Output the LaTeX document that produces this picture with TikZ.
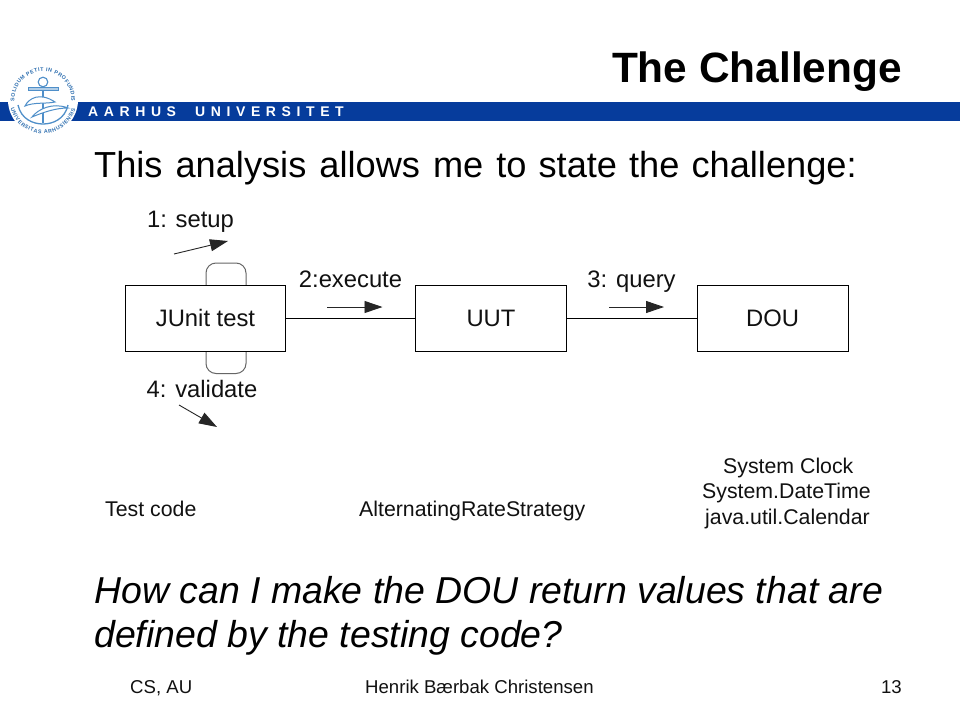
\documentclass[tikz,border=0pt]{standalone}
\usepackage{fontspec}
\setmainfont{Liberation Sans}
\usetikzlibrary{decorations.text,arrows.meta}
\definecolor{aublue}{HTML}{063C9C}
\definecolor{logoblue}{HTML}{4F8FC9}
\definecolor{logotxt}{HTML}{2E6FB0}
\definecolor{txtk}{HTML}{111111}
\newcommand{\fsz}[1]{\fontsize{#1}{#1}\selectfont}
\tikzset{
  x=1pt,y=-1pt,
  title/.style={anchor=base east,inner sep=0,font=\fsz{42.4}\bfseries,text=black},
  bodytxt/.style={anchor=base west,inner sep=0,font=\fsz{36.2},text=black},
  bodyit/.style={anchor=base west,inner sep=0,font=\fsz{37.45}\itshape,text=black},
  small/.style={anchor=base west,inner sep=0,font=\fsz{21.3},text=txtk},
  foot/.style={anchor=base west,inner sep=0,font=\fsz{18.6},text=txtk},
  dia/.style={anchor=base,inner sep=0,font=\fsz{23.8},text=txtk},
  box/.style={draw=black,line width=1pt,fill=white,inner sep=0,font=\fsz{23.8},text=txtk},
  link/.style={draw=black,line width=1pt},
  loopl/.style={draw=black!60,line width=1pt,rounded corners=10},
  msg/.style={draw=black!85,line width=.9pt,-{Triangle[length=18,width=12]}},
  logol/.style={draw=logoblue,line width=1.3pt},
  logof/.style={draw=logoblue,line width=1pt,fill=white},
  bandtxt/.style={anchor=base west,inner sep=0,text=white,font=\fsz{14}\bfseries\addfontfeature{LetterSpace=40}},
}
\begin{document}
\begin{tikzpicture}
\useasboundingbox (0,0) rectangle (960,720);
\fill[white] (0,0) rectangle (960,720);
% band
\fill[aublue] (0,102) rectangle (960,121);
\node[bandtxt] (banda) at (88,116.7) {AARHUS};
\node[bandtxt] (bandb) at (195,116.7) {UNIVERSITET};
% seal
\fill[white] (43,100) circle (35);
\begin{scope}[shift={(43,100)},y=1pt]
\path[decorate,decoration={text along path,text align={fit to path},text={|\fsz{5.3}\bfseries\color{logotxt}|SOLIDUM PETIT IN PROFUNDIS}}]
  (183:28.5) arc[start angle=183,end angle=-3,radius=28.5];
\path[decorate,decoration={text along path,text align={fit to path},text={|\fsz{5.3}\bfseries\color{logotxt}|UNIVERSITAS ARHUSIENSIS}}]
  (195:33.5) arc[start angle=195,end angle=345,radius=33.5];
\end{scope}
% anchor
\draw[logol] (43,87) -- (43,123);
\draw[logol,line width=1.1pt] (43,82) circle (4.8);
\draw[logol,line width=.8pt,fill=logoblue!45] (28,87.5) rectangle (58,90.5);
\draw[logol] (18,105) .. controls (21,119) and (33,124) .. (43,124) .. controls (53,124) and (65,119) .. (68,105);
\draw[logof] (25,106) .. controls (29,98) and (40,92) .. (55,102) .. controls (46,104) and (34,102) .. (25,106) -- cycle;
\draw[logof] (32,117) .. controls (38,109) and (53,102) .. (68,108) .. controls (56,108) and (44,112) .. (32,117) -- cycle;
% text
\node[title] (ttl) at (902,82) {The Challenge};
\node[bodytxt] (intro) at (94,177) {This\hspace{3pt} analysis\hspace{3pt} allows\hspace{3pt} me\hspace{3pt} to\hspace{2pt} state\hspace{2pt} the\hspace{2pt} challenge:};
\node[bodyit] (q1) at (94,603.5) {How can I make the DOU return values that are};
\node[bodyit] (q2) at (94,647.5) {defined by the testing code?};
% diagram
\coordinate (la) at (206,285); \coordinate (lb) at (206,263); \coordinate (lc) at (246,263); \coordinate (ld) at (246,285);
\coordinate (le) at (206,351); \coordinate (lf) at (206,373.5); \coordinate (lg) at (246,373.5); \coordinate (lh) at (246,351);
\draw[loopl] (la) -- (lb) -- (lc) -- (ld);
\draw[loopl] (le) -- (lf) -- (lg) -- (lh);
\node[box,minimum width=160.4,minimum height=66] (junit) at (205.5,318) {JUnit test};
\node[box,minimum width=151,minimum height=66] (uut) at (491,318) {UUT};
\node[box,minimum width=151,minimum height=66] (dou) at (772.5,318) {DOU};
\draw[link] (junit) -- (uut);
\draw[link] (uut) -- (dou);
\node[dia] (l1) at (190.5,227) {1: setup};
\node[dia] (l2) at (350.5,287) {2:execute};
\node[dia] (l3) at (631.5,287) {3: query};
\node[dia] (l4) at (202,397) {4: validate};
\coordinate (a1s) at (174,254); \coordinate (a1e) at (228,241);
\coordinate (a2s) at (327,307); \coordinate (a2e) at (382.5,307);
\coordinate (a3s) at (609,307); \coordinate (a3e) at (664,307);
\coordinate (a4s) at (179,405); \coordinate (a4e) at (217,427);
\draw[msg] (a1s) -- (a1e);
\draw[msg] (a2s) -- (a2e);
\draw[msg] (a3s) -- (a3e);
\draw[msg] (a4s) -- (a4e);
\node[small] (c1) at (105,516) {Test code};
\node[small] (c2) at (359,516) {AlternatingRateStrategy};
\node[small] (c3) at (723,473) {System Clock};
\node[small] (c4) at (702,498) {System.DateTime};
\node[small] (c5) at (705,524) {java.util.Calendar};
\node[foot] (f1) at (130,693) {CS, AU};
\node[foot] (f2) at (365,693) {Henrik Bærbak Christensen};
\node[foot,anchor=base east] (f3) at (902,693) {13};
\end{tikzpicture}
\end{document}
